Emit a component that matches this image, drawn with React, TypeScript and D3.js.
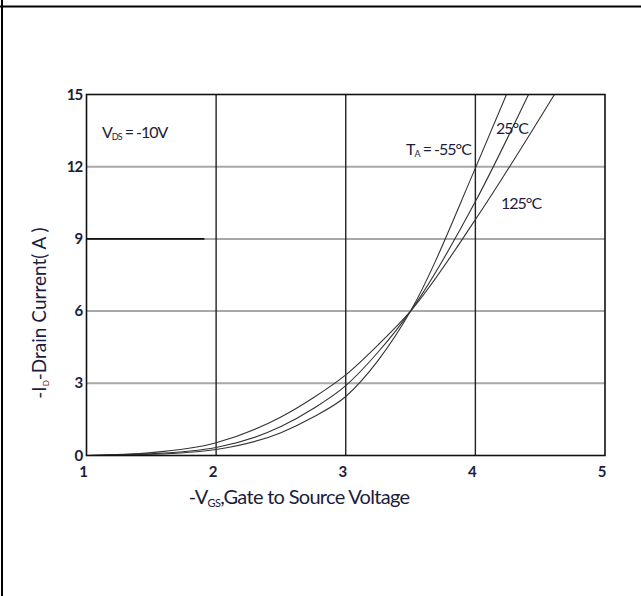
import React, {useEffect, useRef} from 'react';
import * as d3 from 'd3';

// -VGS (V) sample points and -ID (A) per temperature
const vgsCold = [1, 1.5, 2, 2.5, 2.75, 3, 3.25, 3.5, 4, 4.24]
const idCold = [0, 0.05, 0.25, 0.95, 1.6, 2.45, 3.95, 6.0, 11.94, 15]

const vgsRoom = [1, 1.5, 2, 2.5, 2.75, 3, 3.25, 3.5, 4, 4.41]
const idRoom = [0, 0.07, 0.33, 1.2, 1.95, 2.9, 4.3, 6.0, 10.55, 15]

const vgsHot = [1, 1.5, 2, 2.5, 2.75, 3, 3.25, 3.5, 4, 4.61]
const idHot = [0, 0.12, 0.53, 1.6, 2.4, 3.35, 4.6, 6.0, 9.8, 15]

const xTicks = [1, 2, 3, 4, 5]
const yTicks = [0, 3, 6, 9, 12, 15]

const App = () => {

    const svgRef = useRef<SVGSVGElement>(null);

    const width = 641
    const height = 596

    const dimensions = {
        left: 86.5,
        right: 605,
        top: 94.5,
        bottom: 455.5
    }

    useEffect(() => {

        const svg = d3.select(svgRef.current)
        svg.selectAll('*').remove()

        const xScale = d3.scaleLinear().domain([1, 5]).range([dimensions.left, dimensions.right])
        const yScale = d3.scaleLinear().domain([0, 15]).range([dimensions.bottom, dimensions.top])

        const font = "Lato, 'Open Sans', sans-serif"
        const textColor = '#1c1c3c'

        // page frame
        svg.append('line')
            .attr('x1', 0).attr('x2', width).attr('y1', 6.5).attr('y2', 6.5)
            .attr('stroke', '#000').attr('stroke-width', 2)
        svg.append('line')
            .attr('x1', 2).attr('x2', 2).attr('y1', 0).attr('y2', height)
            .attr('stroke', '#000').attr('stroke-width', 2)

        svg.append('defs').append('clipPath').attr('id', 'plotclip')
            .append('rect')
            .attr('x', dimensions.left).attr('y', dimensions.top)
            .attr('width', dimensions.right - dimensions.left)
            .attr('height', dimensions.bottom - dimensions.top)

        const grid = svg.append('g')

        // horizontal grey gridlines
        grid.selectAll('.hgrid')
            .data(yTicks.slice(1, -1))
            .join('line')
            .attr('class', 'hgrid')
            .attr('x1', dimensions.left).attr('x2', dimensions.right)
            .attr('y1', d => yScale(d)).attr('y2', d => yScale(d))
            .attr('stroke', '#a8a8a8').attr('stroke-width', 2)

        // the 9 A line is drawn dark on its left part
        grid.append('line')
            .attr('x1', dimensions.left).attr('x2', xScale(1.91))
            .attr('y1', yScale(9)).attr('y2', yScale(9))
            .attr('stroke', '#111').attr('stroke-width', 1.6)

        // vertical dark gridlines
        grid.selectAll('.vgrid')
            .data(xTicks.slice(1, -1))
            .join('line')
            .attr('class', 'vgrid')
            .attr('x1', d => xScale(d)).attr('x2', d => xScale(d))
            .attr('y1', dimensions.top).attr('y2', dimensions.bottom)
            .attr('stroke', '#222').attr('stroke-width', 1.4)

        // curves
        const series = [
            {x: vgsCold, y: idCold},
            {x: vgsRoom, y: idRoom},
            {x: vgsHot, y: idHot}
        ]

        const lineGen = d3.line<[number, number]>()
            .x(d => xScale(d[0]))
            .y(d => yScale(d[1]))
            .curve(d3.curveMonotoneX)

        svg.append('g')
            .attr('clip-path', 'url(#plotclip)')
            .selectAll('path')
            .data(series)
            .join('path')
            .attr('d', s => lineGen(s.x.map((v, i) => [v, s.y[i]] as [number, number])))
            .attr('fill', 'none')
            .attr('stroke', '#333')
            .attr('stroke-width', 1.1)

        // plot border
        svg.append('rect')
            .attr('x', dimensions.left).attr('y', dimensions.top)
            .attr('width', dimensions.right - dimensions.left)
            .attr('height', dimensions.bottom - dimensions.top)
            .attr('fill', 'none').attr('stroke', '#111').attr('stroke-width', 1.6)

        // tick labels
        svg.selectAll('.ylab')
            .data(yTicks)
            .join('text')
            .attr('class', 'ylab')
            .attr('x', dimensions.left - 4)
            .attr('y', d => yScale(d) + 5)
            .attr('text-anchor', 'end')
            .style('font-family', font)
            .style('font-size', '15px')
            .style('font-weight', 'bold')
            .style('letter-spacing', '-0.8px')
            .attr('fill', textColor)
            .text(d => d)

        svg.selectAll('.xlab')
            .data(xTicks)
            .join('text')
            .attr('class', 'xlab')
            .attr('x', d => xScale(d) - 3)
            .attr('y', dimensions.bottom + 21)
            .attr('text-anchor', 'middle')
            .style('font-family', font)
            .style('font-size', '15px')
            .style('font-weight', 'bold')
            .attr('fill', textColor)
            .text(d => d)

        // axis titles
        const xTitle = svg.append('text')
            .attr('x', 299)
            .attr('y', 504)
            .attr('text-anchor', 'middle')
            .style('font-family', font)
            .style('font-size', '20px')
            .style('letter-spacing', '-0.7px')
            .attr('fill', textColor)
        xTitle.append('tspan').text('-V')
        xTitle.append('tspan').attr('dy', 3).style('font-size', '11px').text('GS')
        xTitle.append('tspan').attr('dy', -3).text(',Gate to Source Voltage')

        const yTitle = svg.append('text')
            .attr('transform', 'translate(46, 313) rotate(-90)')
            .attr('text-anchor', 'middle')
            .style('font-family', font)
            .style('font-size', '19px')
            .attr('fill', textColor)
        yTitle.append('tspan').text('-I')
        yTitle.append('tspan').attr('dy', 3).style('font-size', '8px').attr('fill', '#6b1a1a').text('D')
        yTitle.append('tspan').attr('dy', -3).text('-Drain Current( A )')

        const annStyle = (t: any) => t
            .style('font-family', font)
            .style('font-size', '16px')
            .style('letter-spacing', '-1px')
            .attr('fill', textColor)

        // annotations
        const vds = svg.append('text').attr('x', 102).attr('y', 138).call(annStyle)
        vds.append('tspan').text('V')
        vds.append('tspan').attr('dy', 2).style('font-size', '9px').text('DS')
        vds.append('tspan').attr('dy', -2).text(' = -10V')

        const ta = svg.append('text').attr('x', 406).attr('y', 155).call(annStyle)
        ta.append('tspan').text('T')
        ta.append('tspan').attr('dy', 2).style('font-size', '9px').text('A')
        ta.append('tspan').attr('dy', -2).text(' = -55°C')

        svg.append('text').attr('x', 496).attr('y', 134).call(annStyle).text('25°C')

        svg.append('text').attr('x', 501).attr('y', 209).call(annStyle).text('125°C')

    }, [])

    return (
        <svg ref={svgRef} width={width} height={height}
             style={{position: 'absolute', left: 0, top: 0, background: '#fff'}}/>
    );
}

export default App;
